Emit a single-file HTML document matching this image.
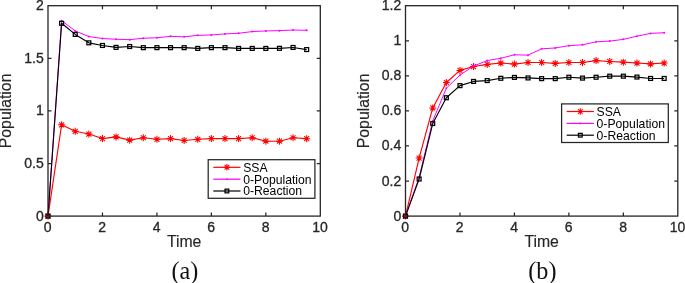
<!DOCTYPE html>
<html><head><meta charset="utf-8"><title>Figure</title>
<style>
html,body{margin:0;padding:0;background:#fff;}
body{width:685px;height:283px;overflow:hidden;}
svg{display:block;will-change:transform;opacity:0.999;}
.tk{font-family:"Liberation Sans",Arial,Helvetica,sans-serif;font-size:14px;fill:#262626;stroke:#262626;stroke-width:0.3px;}
.lb{font-family:"Liberation Sans",Arial,Helvetica,sans-serif;font-size:15.8px;fill:#262626;stroke:#262626;stroke-width:0.15px;}
.lg{font-family:"Liberation Sans",Arial,Helvetica,sans-serif;font-size:12.2px;fill:#000;}
.cap{font-family:"Liberation Serif","Times New Roman",Times,serif;font-size:24.2px;fill:#111;}
</style></head><body>
<svg width="685" height="283" viewBox="0 0 685 283">
<rect width="685" height="283" fill="#fff"/>
<polyline points="48,216.1 61.62,124.79 75.23,131.31 88.84,134.04 102.46,138.57 116.08,136.88 129.69,140.15 143.31,137.73 156.92,139.3 170.53,138.57 184.15,140.46 197.77,139.3 211.38,138.57 225,138.57 238.61,138.57 252.22,137.73 265.84,141.2 279.46,141.2 293.07,137.73 306.69,138.67" fill="none" stroke="#f00" stroke-width="1.15" stroke-linejoin="round"/>
<path d="M44.5 216.1H51.5M48 212.6V219.6M45.53 213.63L50.47 218.57M45.53 218.57L50.47 213.63" stroke="#f00" stroke-width="1.05" fill="none"/>
<path d="M58.12 124.79H65.12M61.62 121.29V128.29M59.14 122.31L64.09 127.26M59.14 127.26L64.09 122.31" stroke="#f00" stroke-width="1.05" fill="none"/>
<path d="M71.73 131.31H78.73M75.23 127.81V134.81M72.76 128.83L77.7 133.78M72.76 133.78L77.7 128.83" stroke="#f00" stroke-width="1.05" fill="none"/>
<path d="M85.34 134.04H92.34M88.84 130.54V137.54M86.37 131.57L91.32 136.52M86.37 136.52L91.32 131.57" stroke="#f00" stroke-width="1.05" fill="none"/>
<path d="M98.96 138.57H105.96M102.46 135.07V142.07M99.99 136.09L104.93 141.04M99.99 141.04L104.93 136.09" stroke="#f00" stroke-width="1.05" fill="none"/>
<path d="M112.58 136.88H119.58M116.08 133.38V140.38M113.6 134.41L118.55 139.36M113.6 139.36L118.55 134.41" stroke="#f00" stroke-width="1.05" fill="none"/>
<path d="M126.19 140.15H133.19M129.69 136.65V143.65M127.22 137.67L132.16 142.62M127.22 142.62L132.16 137.67" stroke="#f00" stroke-width="1.05" fill="none"/>
<path d="M139.81 137.73H146.81M143.31 134.23V141.23M140.83 135.25L145.78 140.2M140.83 140.2L145.78 135.25" stroke="#f00" stroke-width="1.05" fill="none"/>
<path d="M153.42 139.3H160.42M156.92 135.8V142.8M154.45 136.83L159.39 141.78M154.45 141.78L159.39 136.83" stroke="#f00" stroke-width="1.05" fill="none"/>
<path d="M167.03 138.57H174.03M170.53 135.07V142.07M168.06 136.09L173.01 141.04M168.06 141.04L173.01 136.09" stroke="#f00" stroke-width="1.05" fill="none"/>
<path d="M180.65 140.46H187.65M184.15 136.96V143.96M181.68 137.99L186.62 142.94M181.68 142.94L186.62 137.99" stroke="#f00" stroke-width="1.05" fill="none"/>
<path d="M194.27 139.3H201.27M197.77 135.8V142.8M195.29 136.83L200.24 141.78M195.29 141.78L200.24 136.83" stroke="#f00" stroke-width="1.05" fill="none"/>
<path d="M207.88 138.57H214.88M211.38 135.07V142.07M208.91 136.09L213.85 141.04M208.91 141.04L213.85 136.09" stroke="#f00" stroke-width="1.05" fill="none"/>
<path d="M221.5 138.57H228.5M225 135.07V142.07M222.52 136.09L227.47 141.04M222.52 141.04L227.47 136.09" stroke="#f00" stroke-width="1.05" fill="none"/>
<path d="M235.11 138.57H242.11M238.61 135.07V142.07M236.14 136.09L241.08 141.04M236.14 141.04L241.08 136.09" stroke="#f00" stroke-width="1.05" fill="none"/>
<path d="M248.72 137.73H255.72M252.22 134.23V141.23M249.75 135.25L254.7 140.2M249.75 140.2L254.7 135.25" stroke="#f00" stroke-width="1.05" fill="none"/>
<path d="M262.34 141.2H269.34M265.84 137.7V144.7M263.37 138.72L268.31 143.67M263.37 143.67L268.31 138.72" stroke="#f00" stroke-width="1.05" fill="none"/>
<path d="M275.96 141.2H282.96M279.46 137.7V144.7M276.98 138.72L281.93 143.67M276.98 143.67L281.93 138.72" stroke="#f00" stroke-width="1.05" fill="none"/>
<path d="M289.57 137.73H296.57M293.07 134.23V141.23M290.6 135.25L295.54 140.2M290.6 140.2L295.54 135.25" stroke="#f00" stroke-width="1.05" fill="none"/>
<path d="M303.19 138.67H310.19M306.69 135.17V142.17M304.21 136.2L309.16 141.15M304.21 141.15L309.16 136.2" stroke="#f00" stroke-width="1.05" fill="none"/>
<polyline points="48,216.1 61.62,20.64 75.23,30.95 88.84,36.52 102.46,38.52 116.08,39.26 129.69,39.68 143.31,38.21 156.92,37.79 170.53,36.31 184.15,36.84 197.77,35.37 211.38,34.95 225,33.89 238.61,33.26 252.22,31.58 265.84,30.95 279.46,30.63 293.07,30 306.69,30.32" fill="none" stroke="#f0f" stroke-width="1.0" stroke-linejoin="round"/>
<circle cx="48" cy="216.1" r="1" fill="#f0f"/>
<circle cx="61.62" cy="20.64" r="1" fill="#f0f"/>
<circle cx="75.23" cy="30.95" r="1" fill="#f0f"/>
<circle cx="88.84" cy="36.52" r="1" fill="#f0f"/>
<circle cx="102.46" cy="38.52" r="1" fill="#f0f"/>
<circle cx="116.08" cy="39.26" r="1" fill="#f0f"/>
<circle cx="129.69" cy="39.68" r="1" fill="#f0f"/>
<circle cx="143.31" cy="38.21" r="1" fill="#f0f"/>
<circle cx="156.92" cy="37.79" r="1" fill="#f0f"/>
<circle cx="170.53" cy="36.31" r="1" fill="#f0f"/>
<circle cx="184.15" cy="36.84" r="1" fill="#f0f"/>
<circle cx="197.77" cy="35.37" r="1" fill="#f0f"/>
<circle cx="211.38" cy="34.95" r="1" fill="#f0f"/>
<circle cx="225" cy="33.89" r="1" fill="#f0f"/>
<circle cx="238.61" cy="33.26" r="1" fill="#f0f"/>
<circle cx="252.22" cy="31.58" r="1" fill="#f0f"/>
<circle cx="265.84" cy="30.95" r="1" fill="#f0f"/>
<circle cx="279.46" cy="30.63" r="1" fill="#f0f"/>
<circle cx="293.07" cy="30" r="1" fill="#f0f"/>
<circle cx="306.69" cy="30.32" r="1" fill="#f0f"/>
<polyline points="48,216.1 61.62,23.27 75.23,34.42 88.84,42.84 102.46,45.47 116.08,47.36 129.69,46.52 143.31,47.67 156.92,47.67 170.53,47.67 184.15,47.67 197.77,48.41 211.38,47.67 225,47.67 238.61,48.41 252.22,48.41 265.84,48.41 279.46,48.31 293.07,47.46 306.69,49.57" fill="none" stroke="#000" stroke-width="1.15" stroke-linejoin="round"/>
<rect x="46.05" y="214.15" width="3.9" height="3.9" fill="none" stroke="#000" stroke-width="1.25"/>
<rect x="59.66" y="21.32" width="3.9" height="3.9" fill="none" stroke="#000" stroke-width="1.25"/>
<rect x="73.28" y="32.47" width="3.9" height="3.9" fill="none" stroke="#000" stroke-width="1.25"/>
<rect x="86.89" y="40.89" width="3.9" height="3.9" fill="none" stroke="#000" stroke-width="1.25"/>
<rect x="100.51" y="43.52" width="3.9" height="3.9" fill="none" stroke="#000" stroke-width="1.25"/>
<rect x="114.12" y="45.41" width="3.9" height="3.9" fill="none" stroke="#000" stroke-width="1.25"/>
<rect x="127.74" y="44.57" width="3.9" height="3.9" fill="none" stroke="#000" stroke-width="1.25"/>
<rect x="141.36" y="45.72" width="3.9" height="3.9" fill="none" stroke="#000" stroke-width="1.25"/>
<rect x="154.97" y="45.72" width="3.9" height="3.9" fill="none" stroke="#000" stroke-width="1.25"/>
<rect x="168.59" y="45.72" width="3.9" height="3.9" fill="none" stroke="#000" stroke-width="1.25"/>
<rect x="182.2" y="45.72" width="3.9" height="3.9" fill="none" stroke="#000" stroke-width="1.25"/>
<rect x="195.82" y="46.46" width="3.9" height="3.9" fill="none" stroke="#000" stroke-width="1.25"/>
<rect x="209.43" y="45.72" width="3.9" height="3.9" fill="none" stroke="#000" stroke-width="1.25"/>
<rect x="223.05" y="45.72" width="3.9" height="3.9" fill="none" stroke="#000" stroke-width="1.25"/>
<rect x="236.66" y="46.46" width="3.9" height="3.9" fill="none" stroke="#000" stroke-width="1.25"/>
<rect x="250.28" y="46.46" width="3.9" height="3.9" fill="none" stroke="#000" stroke-width="1.25"/>
<rect x="263.89" y="46.46" width="3.9" height="3.9" fill="none" stroke="#000" stroke-width="1.25"/>
<rect x="277.51" y="46.36" width="3.9" height="3.9" fill="none" stroke="#000" stroke-width="1.25"/>
<rect x="291.12" y="45.51" width="3.9" height="3.9" fill="none" stroke="#000" stroke-width="1.25"/>
<rect x="304.74" y="47.62" width="3.9" height="3.9" fill="none" stroke="#000" stroke-width="1.25"/>
<rect x="48" y="5.7" width="272.3" height="210.4" fill="none" stroke="#262626" stroke-width="1.3"/>
<path d="M102.46 216.1v-3.5M102.46 5.7v3.5M156.92 216.1v-3.5M156.92 5.7v3.5M211.38 216.1v-3.5M211.38 5.7v3.5M265.84 216.1v-3.5M265.84 5.7v3.5M48 163.5h3.5M320.3 163.5h-3.5M48 110.9h3.5M320.3 110.9h-3.5M48 58.3h3.5M320.3 58.3h-3.5" stroke="#262626" stroke-width="1.25" fill="none"/>
<text x="47.7" y="232.3" text-anchor="middle" class="tk">0</text>
<text x="102.16" y="232.3" text-anchor="middle" class="tk">2</text>
<text x="156.62" y="232.3" text-anchor="middle" class="tk">4</text>
<text x="211.08" y="232.3" text-anchor="middle" class="tk">6</text>
<text x="265.54" y="232.3" text-anchor="middle" class="tk">8</text>
<text x="320" y="232.3" text-anchor="middle" class="tk">10</text>
<text x="43.7" y="220.6" text-anchor="end" class="tk">0</text>
<text x="43.7" y="168" text-anchor="end" class="tk">0.5</text>
<text x="43.7" y="115.4" text-anchor="end" class="tk">1</text>
<text x="43.7" y="62.8" text-anchor="end" class="tk">1.5</text>
<text x="43.7" y="10.2" text-anchor="end" class="tk">2</text>
<text x="184.15" y="247.2" text-anchor="middle" class="lb">Time</text>
<text transform="translate(11.1 110.9) rotate(-90)" text-anchor="middle" class="lb">Population</text>
<text x="184.85" y="278.9" text-anchor="middle" class="cap">(a)</text>
<rect x="208.2" y="159.7" width="106.7" height="38.6" fill="#fff" stroke="#262626" stroke-width="1.25"/>
<path d="M213.3 167.3H240.5" stroke="#f00" stroke-width="1.2"/>
<text x="243.2" y="171.6" class="lg">SSA</text>
<path d="M213.3 179.2H240.5" stroke="#f0f" stroke-width="1.2"/>
<text x="243.2" y="183.5" class="lg">0-Population</text>
<path d="M213.3 191H240.5" stroke="#000" stroke-width="1.2"/>
<text x="243.2" y="195.3" class="lg">0-Reaction</text>
<path d="M223.6 167.3H230.2M226.9 164V170.6M224.57 164.97L229.23 169.63M224.57 169.63L229.23 164.97" stroke="#f00" stroke-width="1.05" fill="none"/>
<circle cx="226.9" cy="179.2" r="0.9" fill="#f0f"/>
<rect x="225.05" y="189.15" width="3.7" height="3.7" fill="none" stroke="#000" stroke-width="1.25"/>
<polyline points="405.5,216.1 419.12,158.06 432.73,107.92 446.35,82.5 459.96,70.4 473.57,66.54 487.19,64.44 500.81,63.03 514.42,64.09 528.03,62.51 541.65,62.51 555.26,63.38 568.88,62.51 582.5,62.51 596.11,60.58 609.72,61.46 623.34,62.16 636.95,63.03 650.57,63.91 664.18,63.03" fill="none" stroke="#f00" stroke-width="1.15" stroke-linejoin="round"/>
<path d="M402 216.1H409M405.5 212.6V219.6M403.03 213.63L407.97 218.57M403.03 218.57L407.97 213.63" stroke="#f00" stroke-width="1.05" fill="none"/>
<path d="M415.62 158.06H422.62M419.12 154.56V161.56M416.64 155.59L421.59 160.54M416.64 160.54L421.59 155.59" stroke="#f00" stroke-width="1.05" fill="none"/>
<path d="M429.23 107.92H436.23M432.73 104.42V111.42M430.26 105.44L435.2 110.39M430.26 110.39L435.2 105.44" stroke="#f00" stroke-width="1.05" fill="none"/>
<path d="M442.85 82.5H449.85M446.35 79V86M443.87 80.02L448.82 84.97M443.87 84.97L448.82 80.02" stroke="#f00" stroke-width="1.05" fill="none"/>
<path d="M456.46 70.4H463.46M459.96 66.9V73.9M457.49 67.92L462.43 72.87M457.49 72.87L462.43 67.92" stroke="#f00" stroke-width="1.05" fill="none"/>
<path d="M470.07 66.54H477.07M473.57 63.04V70.04M471.1 64.07L476.05 69.02M471.1 69.02L476.05 64.07" stroke="#f00" stroke-width="1.05" fill="none"/>
<path d="M483.69 64.44H490.69M487.19 60.94V67.94M484.72 61.96L489.66 66.91M484.72 66.91L489.66 61.96" stroke="#f00" stroke-width="1.05" fill="none"/>
<path d="M497.31 63.03H504.31M500.81 59.53V66.53M498.33 60.56L503.28 65.51M498.33 65.51L503.28 60.56" stroke="#f00" stroke-width="1.05" fill="none"/>
<path d="M510.92 64.09H517.92M514.42 60.59V67.59M511.95 61.61L516.89 66.56M511.95 66.56L516.89 61.61" stroke="#f00" stroke-width="1.05" fill="none"/>
<path d="M524.53 62.51H531.53M528.03 59.01V66.01M525.56 60.03L530.51 64.98M525.56 64.98L530.51 60.03" stroke="#f00" stroke-width="1.05" fill="none"/>
<path d="M538.15 62.51H545.15M541.65 59.01V66.01M539.18 60.03L544.12 64.98M539.18 64.98L544.12 60.03" stroke="#f00" stroke-width="1.05" fill="none"/>
<path d="M551.76 63.38H558.76M555.26 59.88V66.88M552.79 60.91L557.74 65.86M552.79 65.86L557.74 60.91" stroke="#f00" stroke-width="1.05" fill="none"/>
<path d="M565.38 62.51H572.38M568.88 59.01V66.01M566.41 60.03L571.35 64.98M566.41 64.98L571.35 60.03" stroke="#f00" stroke-width="1.05" fill="none"/>
<path d="M579 62.51H586M582.5 59.01V66.01M580.02 60.03L584.97 64.98M580.02 64.98L584.97 60.03" stroke="#f00" stroke-width="1.05" fill="none"/>
<path d="M592.61 60.58H599.61M596.11 57.08V64.08M593.64 58.1L598.58 63.05M593.64 63.05L598.58 58.1" stroke="#f00" stroke-width="1.05" fill="none"/>
<path d="M606.22 61.46H613.22M609.72 57.96V64.96M607.25 58.98L612.2 63.93M607.25 63.93L612.2 58.98" stroke="#f00" stroke-width="1.05" fill="none"/>
<path d="M619.84 62.16H626.84M623.34 58.66V65.66M620.87 59.68L625.81 64.63M620.87 64.63L625.81 59.68" stroke="#f00" stroke-width="1.05" fill="none"/>
<path d="M633.45 63.03H640.45M636.95 59.53V66.53M634.48 60.56L639.43 65.51M634.48 65.51L639.43 60.56" stroke="#f00" stroke-width="1.05" fill="none"/>
<path d="M647.07 63.91H654.07M650.57 60.41V67.41M648.1 61.44L653.04 66.39M648.1 66.39L653.04 61.44" stroke="#f00" stroke-width="1.05" fill="none"/>
<path d="M660.68 63.03H667.68M664.18 59.53V66.53M661.71 60.56L666.66 65.51M661.71 65.51L666.66 60.56" stroke="#f00" stroke-width="1.05" fill="none"/>
<polyline points="405.5,216.1 419.12,177.35 432.73,120.89 446.35,88.28 459.96,75.13 473.57,66.01 487.19,60.58 500.81,58.3 514.42,54.79 528.03,55.14 541.65,48.83 555.26,47.96 568.88,45.68 582.5,44.8 596.11,41.82 609.72,41.12 623.34,39.36 636.95,36.21 650.57,33.4 664.18,32.7" fill="none" stroke="#f0f" stroke-width="1.0" stroke-linejoin="round"/>
<circle cx="405.5" cy="216.1" r="1" fill="#f0f"/>
<circle cx="419.12" cy="177.35" r="1" fill="#f0f"/>
<circle cx="432.73" cy="120.89" r="1" fill="#f0f"/>
<circle cx="446.35" cy="88.28" r="1" fill="#f0f"/>
<circle cx="459.96" cy="75.13" r="1" fill="#f0f"/>
<circle cx="473.57" cy="66.01" r="1" fill="#f0f"/>
<circle cx="487.19" cy="60.58" r="1" fill="#f0f"/>
<circle cx="500.81" cy="58.3" r="1" fill="#f0f"/>
<circle cx="514.42" cy="54.79" r="1" fill="#f0f"/>
<circle cx="528.03" cy="55.14" r="1" fill="#f0f"/>
<circle cx="541.65" cy="48.83" r="1" fill="#f0f"/>
<circle cx="555.26" cy="47.96" r="1" fill="#f0f"/>
<circle cx="568.88" cy="45.68" r="1" fill="#f0f"/>
<circle cx="582.5" cy="44.8" r="1" fill="#f0f"/>
<circle cx="596.11" cy="41.82" r="1" fill="#f0f"/>
<circle cx="609.72" cy="41.12" r="1" fill="#f0f"/>
<circle cx="623.34" cy="39.36" r="1" fill="#f0f"/>
<circle cx="636.95" cy="36.21" r="1" fill="#f0f"/>
<circle cx="650.57" cy="33.4" r="1" fill="#f0f"/>
<circle cx="664.18" cy="32.7" r="1" fill="#f0f"/>
<polyline points="405.5,216.1 419.12,179 432.73,123.52 446.35,97.75 459.96,85.65 473.57,81.44 487.19,80.57 500.81,78.29 514.42,77.41 528.03,77.94 541.65,78.64 555.26,78.64 568.88,77.24 582.5,78.11 596.11,77.24 609.72,76.18 623.34,76.18 636.95,77.06 650.57,78.46 664.18,78.46" fill="none" stroke="#000" stroke-width="1.15" stroke-linejoin="round"/>
<rect x="403.55" y="214.15" width="3.9" height="3.9" fill="none" stroke="#000" stroke-width="1.25"/>
<rect x="417.17" y="177.05" width="3.9" height="3.9" fill="none" stroke="#000" stroke-width="1.25"/>
<rect x="430.78" y="121.57" width="3.9" height="3.9" fill="none" stroke="#000" stroke-width="1.25"/>
<rect x="444.4" y="95.8" width="3.9" height="3.9" fill="none" stroke="#000" stroke-width="1.25"/>
<rect x="458.01" y="83.7" width="3.9" height="3.9" fill="none" stroke="#000" stroke-width="1.25"/>
<rect x="471.62" y="79.49" width="3.9" height="3.9" fill="none" stroke="#000" stroke-width="1.25"/>
<rect x="485.24" y="78.62" width="3.9" height="3.9" fill="none" stroke="#000" stroke-width="1.25"/>
<rect x="498.86" y="76.34" width="3.9" height="3.9" fill="none" stroke="#000" stroke-width="1.25"/>
<rect x="512.47" y="75.46" width="3.9" height="3.9" fill="none" stroke="#000" stroke-width="1.25"/>
<rect x="526.08" y="75.99" width="3.9" height="3.9" fill="none" stroke="#000" stroke-width="1.25"/>
<rect x="539.7" y="76.69" width="3.9" height="3.9" fill="none" stroke="#000" stroke-width="1.25"/>
<rect x="553.31" y="76.69" width="3.9" height="3.9" fill="none" stroke="#000" stroke-width="1.25"/>
<rect x="566.93" y="75.29" width="3.9" height="3.9" fill="none" stroke="#000" stroke-width="1.25"/>
<rect x="580.54" y="76.16" width="3.9" height="3.9" fill="none" stroke="#000" stroke-width="1.25"/>
<rect x="594.16" y="75.29" width="3.9" height="3.9" fill="none" stroke="#000" stroke-width="1.25"/>
<rect x="607.77" y="74.23" width="3.9" height="3.9" fill="none" stroke="#000" stroke-width="1.25"/>
<rect x="621.39" y="74.23" width="3.9" height="3.9" fill="none" stroke="#000" stroke-width="1.25"/>
<rect x="635" y="75.11" width="3.9" height="3.9" fill="none" stroke="#000" stroke-width="1.25"/>
<rect x="648.62" y="76.51" width="3.9" height="3.9" fill="none" stroke="#000" stroke-width="1.25"/>
<rect x="662.23" y="76.51" width="3.9" height="3.9" fill="none" stroke="#000" stroke-width="1.25"/>
<rect x="405.5" y="5.7" width="272.3" height="210.4" fill="none" stroke="#262626" stroke-width="1.3"/>
<path d="M459.96 216.1v-3.5M459.96 5.7v3.5M514.42 216.1v-3.5M514.42 5.7v3.5M568.88 216.1v-3.5M568.88 5.7v3.5M623.34 216.1v-3.5M623.34 5.7v3.5M405.5 181.03h3.5M677.8 181.03h-3.5M405.5 145.97h3.5M677.8 145.97h-3.5M405.5 110.9h3.5M677.8 110.9h-3.5M405.5 75.83h3.5M677.8 75.83h-3.5M405.5 40.77h3.5M677.8 40.77h-3.5" stroke="#262626" stroke-width="1.25" fill="none"/>
<text x="405.2" y="232.3" text-anchor="middle" class="tk">0</text>
<text x="459.66" y="232.3" text-anchor="middle" class="tk">2</text>
<text x="514.12" y="232.3" text-anchor="middle" class="tk">4</text>
<text x="568.58" y="232.3" text-anchor="middle" class="tk">6</text>
<text x="623.04" y="232.3" text-anchor="middle" class="tk">8</text>
<text x="677.5" y="232.3" text-anchor="middle" class="tk">10</text>
<text x="401.2" y="220.6" text-anchor="end" class="tk">0</text>
<text x="401.2" y="185.53" text-anchor="end" class="tk">0.2</text>
<text x="401.2" y="150.47" text-anchor="end" class="tk">0.4</text>
<text x="401.2" y="115.4" text-anchor="end" class="tk">0.6</text>
<text x="401.2" y="80.33" text-anchor="end" class="tk">0.8</text>
<text x="401.2" y="45.27" text-anchor="end" class="tk">1</text>
<text x="401.2" y="10.2" text-anchor="end" class="tk">1.2</text>
<text x="541.65" y="247.2" text-anchor="middle" class="lb">Time</text>
<text transform="translate(369 110.9) rotate(-90)" text-anchor="middle" class="lb">Population</text>
<text x="542.35" y="278.9" text-anchor="middle" class="cap">(b)</text>
<rect x="561.6" y="103.9" width="106.7" height="38.6" fill="#fff" stroke="#262626" stroke-width="1.25"/>
<path d="M566.7 111.5H593.9" stroke="#f00" stroke-width="1.2"/>
<text x="596.6" y="115.8" class="lg">SSA</text>
<path d="M566.7 123.4H593.9" stroke="#f0f" stroke-width="1.2"/>
<text x="596.6" y="127.7" class="lg">0-Population</text>
<path d="M566.7 135.2H593.9" stroke="#000" stroke-width="1.2"/>
<text x="596.6" y="139.5" class="lg">0-Reaction</text>
<path d="M577 111.5H583.6M580.3 108.2V114.8M577.97 109.17L582.63 113.83M577.97 113.83L582.63 109.17" stroke="#f00" stroke-width="1.05" fill="none"/>
<circle cx="580.3" cy="123.4" r="0.9" fill="#f0f"/>
<rect x="578.45" y="133.35" width="3.7" height="3.7" fill="none" stroke="#000" stroke-width="1.25"/>
</svg>
</body></html>
